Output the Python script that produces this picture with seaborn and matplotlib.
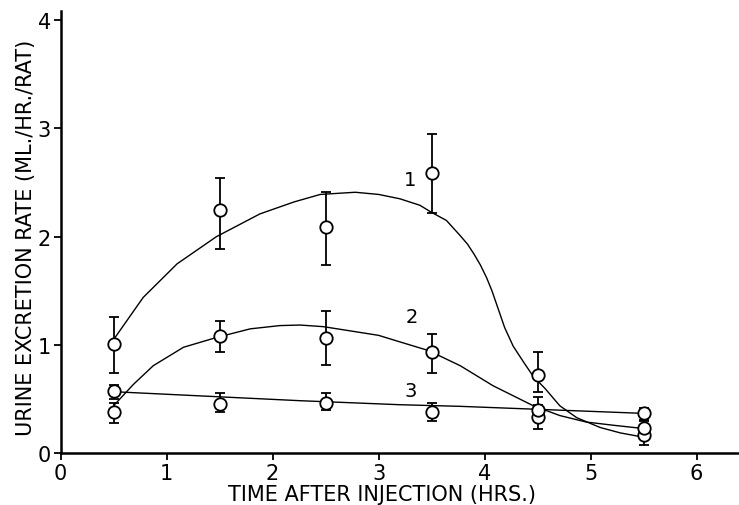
import numpy as np
import pandas as pd
import matplotlib
matplotlib.use("Agg")
import matplotlib.pyplot as plt
import seaborn as sns

# ---- data ----
times = [0.5, 1.5, 2.5, 3.5, 4.5, 5.5]

s1_mean = [1.01, 2.25, 2.09, 2.59, 0.72, 0.17]
s1_hi = [1.26, 2.54, 2.41, 2.95, 0.94, 0.26]
s1_lo = [0.74, 1.89, 1.74, 2.22, 0.57, 0.08]

s2_mean = [0.385, 1.08, 1.07, 0.94, 0.34, 0.235]
s2_hi = [0.47, 1.22, 1.31, 1.10, 0.45, 0.30]
s2_lo = [0.28, 0.94, 0.82, 0.74, 0.23, 0.17]

s3_mean = [0.58, 0.457, 0.47, 0.38, 0.40, 0.37]
s3_hi = [0.63, 0.555, 0.56, 0.47, 0.52, 0.42]
s3_lo = [0.50, 0.38, 0.40, 0.30, 0.33, 0.31]

# hand-drawn smooth curves
c1_x = [0.5, 0.78, 1.1, 1.47, 1.88, 2.2, 2.45, 2.78, 3.0, 3.2, 3.39, 3.49, 3.64,
        3.77, 3.84, 3.90, 3.96, 4.02, 4.07, 4.13, 4.19, 4.27, 4.37, 4.46, 4.57,
        4.71, 4.87, 5.09, 5.28, 5.5]
c1_y = [1.05, 1.44, 1.75, 2.0, 2.21, 2.32, 2.39, 2.41, 2.39, 2.35, 2.29, 2.23, 2.15,
        2.01, 1.93, 1.84, 1.74, 1.62, 1.50, 1.33, 1.16, 0.99, 0.84, 0.71, 0.60,
        0.44, 0.33, 0.24, 0.19, 0.15]
c2_x = [0.5, 0.69, 0.875, 1.16, 1.47, 1.79, 2.07, 2.26, 2.48, 3.0, 3.2, 3.47,
        3.77, 4.08, 4.46, 4.71, 4.96, 5.22, 5.5]
c2_y = [0.44, 0.64, 0.81, 0.98, 1.07, 1.15, 1.18, 1.185, 1.17, 1.09, 1.03, 0.95,
        0.81, 0.625, 0.44, 0.35, 0.29, 0.26, 0.23]
c3_x = [0.5, 2.26, 3.2, 3.77, 5.5]
c3_y = [0.57, 0.487, 0.45, 0.435, 0.37]

curve_labels = ["1", "2", "3"]
label_pos_x = [3.3, 3.31, 3.3]
label_pos_y = [2.53, 1.26, 0.585]

x_ticks = [0, 1, 2, 3, 4, 5, 6]
y_ticks = [0, 1, 2, 3, 4]
x_label = "TIME AFTER INJECTION (HRS.)"
y_label = "URINE EXCRETION RATE (ML./HR./RAT)"

# ---- build tables ----
pts = pd.DataFrame({
    "t": times * 3,
    "mean": s1_mean + s2_mean + s3_mean,
    "hi": s1_hi + s2_hi + s3_hi,
    "lo": s1_lo + s2_lo + s3_lo,
    "series": ["1"] * 6 + ["2"] * 6 + ["3"] * 6,
})
curves = pd.DataFrame({
    "t": c1_x + c2_x + c3_x,
    "v": c1_y + c2_y + c3_y,
    "series": ["1"] * len(c1_x) + ["2"] * len(c2_x) + ["3"] * len(c3_x),
})

sns.set_style("ticks")
plt.rcParams["font.family"] = ["DejaVu Sans"]
plt.rcParams["text.color"] = "black"
plt.rcParams["xtick.color"] = "black"
plt.rcParams["ytick.color"] = "black"
plt.rcParams["axes.labelcolor"] = "black"

fig = plt.figure(figsize=(7.39, 5.06), dpi=100)
ax = fig.add_axes([0.0819, 0.1018, 0.9181, 0.874])

for s in ["1", "2", "3"]:
    sub = curves[curves.series == s]
    sns.lineplot(data=sub, x="t", y="v", sort=False, color="black", lw=1.0,
                 ax=ax, zorder=2, estimator=None)

ax.errorbar(pts["t"], pts["mean"],
            yerr=[pts["mean"] - pts["lo"], pts["hi"] - pts["mean"]],
            fmt="none", ecolor="black", elinewidth=1.3, capsize=3.5,
            capthick=1.3, zorder=3)

sns.scatterplot(data=pts, x="t", y="mean", marker="o", s=80,
                facecolor="white", edgecolor="black", linewidth=1.3,
                ax=ax, zorder=4, legend=False)

for lab, lx, ly in zip(curve_labels, label_pos_x, label_pos_y):
    ax.text(lx, ly, lab, fontsize=14, ha="center", va="center")

ax.set_xlim(0, 6.4)
ax.set_ylim(0, 4.08)
ax.set_xticks(x_ticks)
ax.set_yticks(y_ticks)
ax.tick_params(axis="both", labelsize=15, length=5, width=1.3, pad=2)
ax.set_xlabel(x_label, fontsize=15)
ax.set_ylabel(y_label, fontsize=15)
ax.xaxis.set_label_coords(0.474, -0.068)
ax.yaxis.set_label_coords(-0.036, 0.49)
for side in ["top", "right"]:
    ax.spines[side].set_visible(False)
for side in ["left", "bottom"]:
    ax.spines[side].set_linewidth(1.8)
    ax.spines[side].set_color("black")

fig.savefig("out.png", dpi=100)
